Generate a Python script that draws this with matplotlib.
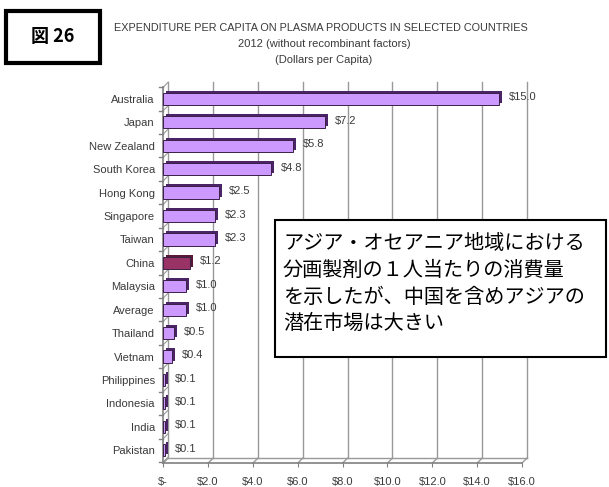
import matplotlib.pyplot as plt
import matplotlib.transforms as mtransforms
from matplotlib.patches import Rectangle

countries = ["Australia", "Japan", "New Zealand", "South Korea", "Hong Kong",
             "Singapore", "Taiwan", "China", "Malaysia", "Average", "Thailand",
             "Vietnam", "Philippines", "Indonesia", "India", "Pakistan"]
values = [15.0, 7.2, 5.8, 4.8, 2.5, 2.3, 2.3, 1.2, 1.0, 1.0, 0.5, 0.4,
          0.1, 0.1, 0.1, 0.1]
value_labels = ["$15.0", "$7.2", "$5.8", "$4.8", "$2.5", "$2.3", "$2.3",
                "$1.2", "$1.0", "$1.0", "$0.5", "$0.4", "$0.1", "$0.1",
                "$0.1", "$0.1"]
x_ticks = [0, 2, 4, 6, 8, 10, 12, 14, 16]
x_tick_labels = ["$-", "$2.0", "$4.0", "$6.0", "$8.0", "$10.0", "$12.0",
                 "$14.0", "$16.0"]
highlight = "China"

narrow = ["Liberation Sans", "DejaVu Sans"]
jp = ["Noto Sans CJK JP", "DejaVu Sans"]
text_col = "#3a3a3a"
grid_col = "#999999"

fig = plt.figure(figsize=(6.09, 4.87), dpi=100)
ax = fig.add_axes([0.268, 0.049, 0.589, 0.772])
ax.set_xlim(0, 16)
ax.set_ylim(15.55, -0.5)
for s in ax.spines.values():
    s.set_visible(False)

# 3D depth offset (pixels)
back = mtransforms.offset_copy(ax.transData, fig, x=5, y=5, units="dots")
bar_back = mtransforms.offset_copy(ax.transData, fig, x=3, y=2, units="dots")
y0, y1 = 15.55, -0.5

# back wall grid lines and floor
for x in x_ticks:
    ax.plot([x, x], [y0, y1], color=grid_col, lw=1, transform=back, clip_on=False, zorder=1)
ax.plot([0, 16], [y0, y0], color=grid_col, lw=1, transform=back, clip_on=False, zorder=1)
ax.plot([0, 16], [y0, y0], color="#808080", lw=1.2, clip_on=False, zorder=2)
ax.plot([0, 0], [y0, y1], color="#808080", lw=1.2, clip_on=False, zorder=2)
# diagonal joins from front floor / wall to back
for x in x_ticks:
    p0 = ax.transData.transform((x, y0))
    p1 = back.transform((x, y0))
    ax.plot([p0[0], p1[0]], [p0[1], p1[1]], color=grid_col, lw=1,
            transform=None, clip_on=False, zorder=1)
for k in range(len(countries) + 1):
    yb = k - 0.5
    p0 = ax.transData.transform((0, yb))
    p1 = back.transform((0, yb))
    ax.plot([p0[0], p1[0]], [p0[1], p1[1]], color=grid_col, lw=0.8,
            transform=None, clip_on=False, zorder=1)
    ax.plot([p0[0] - 4, p0[0]], [p0[1], p0[1]], color="#808080", lw=1,
            transform=None, clip_on=False, zorder=2)

ypos = list(range(len(countries)))
for i, (c, v) in enumerate(zip(countries, values)):
    front_col = "#993366" if c == highlight else "#cc99ff"
    side_col = "#5a1838" if c == highlight else "#4a2466"
    ax.barh(i, v, height=0.52, color=side_col, lw=0,
            transform=bar_back, zorder=3)
    ax.barh(i, v, height=0.52, color=front_col, edgecolor="#3a2048", lw=0.7,
            zorder=4)
    ax.annotate(value_labels[i], (v, i), xytext=(7, 1), textcoords="offset points",
                ha="left", va="center", fontsize=8, color=text_col,
                family=narrow, zorder=5)

ax.set_yticks(ypos)
ax.set_yticklabels(countries, family=narrow, fontsize=8, color=text_col)
ax.tick_params(axis="y", length=0, pad=6)
ax.set_xticks(x_ticks)
ax.set_xticklabels(x_tick_labels, family=narrow, fontsize=8, color=text_col)
ax.tick_params(axis="x", length=3, color="#808080", pad=7)

fig.text(0.527, 0.942, "EXPENDITURE PER CAPITA ON PLASMA PRODUCTS IN SELECTED COUNTRIES",
         ha="center", va="center", fontsize=7.8, color=text_col, family=narrow)
fig.text(0.532, 0.909, "2012 (without recombinant factors)",
         ha="center", va="center", fontsize=8, color=text_col, family=narrow)
fig.text(0.531, 0.876, "(Dollars per Capita)",
         ha="center", va="center", fontsize=8, color=text_col, family=narrow)

# figure number box
fig.patches.append(Rectangle((6 / 609, 1 - 63 / 487), 94 / 609, 52 / 487,
                             transform=fig.transFigure, fill=False,
                             edgecolor="black", lw=3))
fig.text(53 / 609, 1 - 37 / 487, "図 26", ha="center", va="center",
         fontsize=13, fontweight="bold", family=jp)

# comment box
fig.patches.append(Rectangle((275 / 609, 1 - 357 / 487), 331 / 609, 137 / 487,
                             transform=fig.transFigure, facecolor="white",
                             edgecolor="black", lw=1.5, zorder=10))
fig.text(283 / 609, 1 - 233 / 487,
         "アジア・オセアニア地域における\n分画製剤の１人当たりの消費量\nを示したが、中国を含めアジアの\n潜在市場は大きい",
         ha="left", va="top", fontsize=14.5, linespacing=1.36, family=jp,
         zorder=11)

fig.savefig("out.png", dpi=100)
